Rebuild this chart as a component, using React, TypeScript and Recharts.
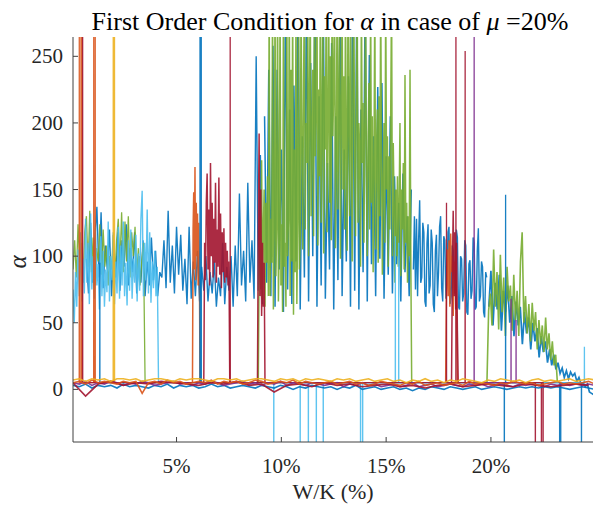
import React from 'react';
import { LineChart, Line, XAxis, YAxis } from 'recharts';

const COLORS = {
  blue: '#0072BD',
  orange: '#D95319',
  yellow: '#EDB120',
  purple: '#7E2F8E',
  green: '#77AC30',
  lightBlue: '#4DBEEE',
  red: '#A2142F',
};

const xTicks = [5, 10, 15, 20];
const yTicks = [0, 50, 100, 150, 200, 250];

// High-branch segments: values of alpha (x start and step given in `series`)
const lightBlueHigh = [75,50,88,62,105,70,118,66,98,72, 128,80,110,64,132,75,100,68,122,78,
  94,60,115,70,104,62,90,73,126,66, 100,82,118,64,96,72,122,68,108,78,
  126,70,95,63,112,74,120,68,98,80, 116,66,102,74,128,149,70,110,82,135,
  72,118,65,96,76,104,70,92,5];
const greenLeft = [90,112,84,124,95,110,80,118,130,92, 134,88,114,78,106,96,124,86,120,92,
  108,78,100,90,116,84,112,128,94,133, 88,126,96,130,84,118,100,122,86,106,
  78,96,110,5];
const blueA = [98,72,125,80,112,137,84,133,76,108, 90,120,70,102,84,118,74,112,92,124,
  78,106,88,118,72,100,80,112,70,96, 78,114,82,104,70,88,84,112,76,134,
  80,108,72,122,86,116,74,98,64,122, 68,96,70,104,66,92,74,100,66,88,
  72,96,62,84,70,110,64,92,74,100, 62,108,70,147,78,104,66,155,80,112,
  68,250,74,176,64];
const blueB = [205,80,240,70,258,62,240,90,180,58, 300,75,210,64,228,96,300,60,190,84,
  300,66,245,100,300,62,220,78,300,68, 170,90,260,60,205,82,300,70,180,96,
  235,62,300,74,300,60,210,88,300,66, 251,94,190,70,227,98,230,68,175,86,
  205,72,160,94,140,66,162,88,130,70, 150];
const blueC1 = [90,130,75,128,70,112,142,80,84,125, 118,66,62,110,124,72,78,120,110,64,
  58,104,116,70,88,122,130,76,66,115, 112,68,80,118,122,64,70,108,104,72,
  84,120,114,62,60,100,98,66,72,112, 108,58,56,94,97,68,74,114,110,60,
  62,104,121,66,70,96,92,58,54,88, 84];
const blueC2 = [62,89,48,80, 60,86,44,74,58,78,50,70,40,66, 48,62,34,58,42,54,30,50,36,46,
  24,40,28,36,20,30,18,26,15,20, 12,16,9,14,8,13,10,12,6,9, 4,5,2,4,-2,-3,-4];
const greenMid = [
  5,90,130,75,172,68,120,150,62,140,95,160,70,
  300,70,128,95,300,60,115,300,85,122,300,66,110,300,78,
  124,58,300,92,110,62,300,100,128,300,70,240,96,300,56,180,88,300,64,126,300,90,
  110,300,190,105,230,300,120,200,170,300,
  100,215,300,130,185,240,115,300,175,210,
  300,108,225,160,300,125,195,300,102,235,
  180,300,118,205,300,140,250,112,300,190,
  228,300,106,170,300,135,215,300,98,200,
  300,150,235,120,300,180,104,300,210,130,
  300,190,96,245,300,160,115,220,
  300,125,200,180,92,300,170,215,110,195,
  300,160,100,190,230,120,300,140,205,88,
  165,300,105,180,210,95,220,130,300,175,
  86,160,200,110,300,150,190,92,175,120,
  210,300,100,185,140,
  80,150,100,160,92,140,200,85,150,120,170,90,236,110,140,80,130,100,240,90,5];
const greenRight = [5,59,72,48,105,62,88,45,101,58, 84,40,92,66,78,44,86,52,74,40,
  96,118,50,70,42,64,36,65,44,58, 30,52,34,48,28,54,30,42,22,36, 18,26,5];
const orangeA = [5,120,148,90,167,82,140,100,132,78,125,95,5];
const orangeB = [5,80,105,70,112,62,117,88,100,55,96,72,108,48,5];
const redA = [5,110,82,140,162,90,135,78,170,100,140,84,128,95,155,80,120,92,159,86,132,76,118,88,121,80,110,84,104,78,96,5];
const redB = [5,120,192,70,150,55,110,62,95,5];
const redC = [5,90,134,70,118,60,110,44,5];

// Near-zero branch (x from 0.06 %, step 0.3 %; red step 0.6 %)
const yellowBand = [7,8,6,8,7,8,6,8,8,7, 8,6,7,8,8,7,6,8,7,8, 8,7,6,8,8,7,8,6,7,8,
  8,7,6,8,7,8,6,8,7,8, 7,6,8,7,8,6,7,8,6,7, 8,6,7,5,7,6,8,6,7,5,
  7,6,8,7,6,5,7,6,8,7, 6,7,5,7,8,6,7,6,7,8, 6,7,8,7];
const orangeBand = [5,6,4,7,5,6,5,4,6,5, 6,-3,5,6,4,7,5,6,4,5, 6,5,7,4,6,5,6,4,5,7,
  6,4,5,6,5,7,4,6,5,4, 5,6,4,5,6,4,5,3,4,6, 5,4,3,5,4,6,3,4,5,3,
  4,5,3,6,4,5,4,3,5,4, 6,5,4,5,3,4,5,6,4,5, 4,5,6,4];
const blueBand = [3,2,4,1,3,2,3,1,4,2, 3,2,1,3,2,4,1,3,2,3, 1,2,4,2,3,1,2,3,2,1,
  3,2,1,3,2,0,2,1,3,2, 1,2,0,2,1,3,0,1,2,0, 1,2,0,1,-1,1,0,2,1,0,
  2,1,0,1,2,0,1,2,1,0, 1,2,1,2,1,2,1,2,1,0, 1,2,1,0];
const purpleBand = [5,4,6,3,5,4,6,5,3,5, 4,6,5,3,4,5,6,4,5,3, 5,4,6,5,3,4,5,6,4,5,
  3,5,4,6,3,5,4,3,5,4, 3,4,5,2,4,3,5,3,4,2, 3,4,2,3,5,2,3,4,2,3,
  4,3,2,4,3,4,2,3,4,3, 2,4,3,4,3,2,4,3,4,3, 4,3,4,3];
const redBand = [5,-5,4,6,3,5,4,6,5,4, 3,5,4,6,3,4,-2,3,4,2, 5,3,4,2,3,4,2,3,1,3,
  4,2,3,4,3,2,4,3,2,3, 4,3];

// Vertical jumps between branches: [x %, alpha reached]
const orangeSpikes = [[0.36,300],[0.44,300],[0.48,300],[1.05,300],[1.12,300]];
const redSpikes = [[0.52,300],[7.56,300],[17.88,140],[18.33,300],[18.77,254],[22.12,-100],[22.41,-100],[22.49,-100]];
const yellowSpikes = [[1.98,300],[2.04,300]];
const blueSpikes = [[1.34,95],[6.12,300],[6.18,300],[20.64,-100],[20.7,146],[23.28,-100],[23.33,-100],[24.32,-100]];
const lightBlueSpikes = [[9.64,-100],[10.9,-100],[11.29,-100],[11.67,-100],[12.0,-100],[13.78,-100],[13.88,-100],[15.44,115],[15.6,110],[24.46,32]];
const purpleSpikes = [[19.2,300],[20.96,68],[21.2,52]];

const seq = (start: number, step: number, vals: number[]) =>
  vals.map((y, i) => ({ x: +(start + i * step).toFixed(4), y }));

const spikes = (list: number[][]) => {
  const pts: { x: number; y: number }[] = [];
  list.forEach(([x, p]) => {
    pts.push({ x: x - 0.004, y: 5 }, { x, y: p }, { x: x + 0.004, y: 5 });
  });
  return pts;
};

type S = { key: string; color: string; data: { x: number; y: number }[]; w?: number; o?: number };

const series: S[] = [
  { key: 'blueA', color: COLORS.blue, data: seq(0.7, 0.1, blueA), w: 1.4 },
  { key: 'blueB', color: COLORS.blue, data: seq(9.2, 0.1, blueB), w: 1.5 },
  { key: 'blueC1', color: COLORS.blue, data: seq(16.3, 0.05, blueC1), w: 1.4 },
  { key: 'blueC2', color: COLORS.blue, data: seq(19.9, 0.1, blueC2), w: 1.7 },
  { key: 'greenLeft', color: COLORS.green, data: seq(0.06, 0.08, greenLeft), w: 1.3 },
  { key: 'lightBlueHigh', color: COLORS.lightBlue, data: seq(0.06, 0.06, lightBlueHigh), w: 1.4 },
  { key: 'greenMid', color: COLORS.green, data: seq(8.9, 0.04, greenMid), w: 1.5 },
  { key: 'greenRight', color: COLORS.green, data: seq(19.81, 0.08, greenRight), w: 1.6 },
  { key: 'orangeA', color: COLORS.orange, data: seq(5.76, 0.03, orangeA), w: 1.5 },
  { key: 'orangeB', color: COLORS.orange, data: seq(17.84, 0.04, orangeB), w: 1.5 },
  { key: 'redA', color: COLORS.red, data: seq(6.3, 0.04, redA), w: 1.5 },
  { key: 'redB', color: COLORS.red, data: seq(8.86, 0.04, redB), w: 1.5 },
  { key: 'redC', color: COLORS.red, data: seq(18.12, 0.04, redC), w: 1.5 },
  { key: 'blueSp', color: COLORS.blue, data: spikes(blueSpikes), w: 1.3 },
  { key: 'lightBlueSp', color: COLORS.lightBlue, data: spikes(lightBlueSpikes), w: 1.3 },
  { key: 'orangeSp', color: COLORS.orange, data: spikes(orangeSpikes), w: 1.3 },
  { key: 'redSp', color: COLORS.red, data: spikes(redSpikes), w: 1.3 },
  { key: 'yellowSp', color: COLORS.yellow, data: spikes(yellowSpikes), w: 1.3 },
  { key: 'purpleSp', color: COLORS.purple, data: spikes(purpleSpikes), w: 1.3 },
  { key: 'blueBand', color: COLORS.blue, data: seq(0.06, 0.3, blueBand), w: 1.6 },
  { key: 'purpleBand', color: COLORS.purple, data: seq(0.06, 0.3, purpleBand), w: 1.6 },
  { key: 'redBand', color: COLORS.red, data: seq(0.06, 0.6, redBand), w: 1.6 },
  { key: 'orangeBand', color: COLORS.orange, data: seq(0.06, 0.3, orangeBand), w: 1.6 },
  { key: 'yellowBand', color: COLORS.yellow, data: seq(0.06, 0.3, yellowBand), w: 1.6 },
];

const AX = '#404040';
const TXT = '#262626';
const FONT = '"Liberation Serif", "Times New Roman", serif';

const YTick = (props: any) => {
  const { x, y, payload } = props;
  return (
    <g>
      <line x1={x + 10} x2={x + 15} y1={y} y2={y} stroke={AX} strokeWidth={1} />
      <text x={x} y={y} dy={7} textAnchor="end" fontSize={21} fontFamily={FONT} fill={TXT}>
        {payload.value}
      </text>
    </g>
  );
};

const XTick = (props: any) => {
  const { x, y, payload } = props;
  return (
    <g>
      <line x1={x} x2={x} y1={y} y2={y - 5} stroke={AX} strokeWidth={1} />
      <text x={x} y={y + 31} textAnchor="middle" fontSize={21} fontFamily={FONT} fill={TXT}>
        {payload.value}%
      </text>
    </g>
  );
};

export default function App() {
  return (
    <div style={{ position: 'absolute', left: 0, top: 0, width: 593, height: 510, background: '#fff' }}>
      <LineChart width={593} height={510} margin={{ top: 37, right: 0, bottom: 0, left: 0 }}>
        <XAxis
          dataKey="x"
          type="number"
          domain={[0.06, 24.87]}
          allowDataOverflow
          ticks={xTicks}
          tickSize={0}
          tickMargin={0}
          tick={<XTick />}
          height={68}
          axisLine={{ stroke: AX }}
        />
        <YAxis
          type="number"
          domain={[-39.5, 264.5]}
          allowDataOverflow
          ticks={yTicks}
          tickSize={0}
          tickMargin={10}
          tick={<YTick />}
          width={73}
          axisLine={{ stroke: AX }}
        />
        {series.map((s) => (
          <Line
            key={s.key}
            data={s.data}
            dataKey="y"
            type="linear"
            stroke={s.color}
            strokeWidth={s.w ?? 1}
            strokeOpacity={s.o ?? 0.9}
            dot={false}
            activeDot={false}
            isAnimationActive={false}
            connectNulls={false}
          />
        ))}
      </LineChart>
      <svg width={593} height={510} style={{ position: 'absolute', left: 0, top: 0, pointerEvents: 'none' }}>
        <text x={330} y={30} textAnchor="middle" fontSize={26} fontFamily={FONT} fill="#000">
          First Order Condition for <tspan fontStyle="italic">α</tspan> in case of <tspan fontStyle="italic">μ</tspan> =20%
        </text>
        <text x={0} y={0} transform="translate(26,262) rotate(-90)" textAnchor="middle" fontSize={25} fontStyle="italic" fontFamily={FONT} fill={TXT}>
          α
        </text>
        <text x={333} y={499} textAnchor="middle" fontSize={22} fontFamily={FONT} fill={TXT}>
          W/K (%)
        </text>
      </svg>
    </div>
  );
}
